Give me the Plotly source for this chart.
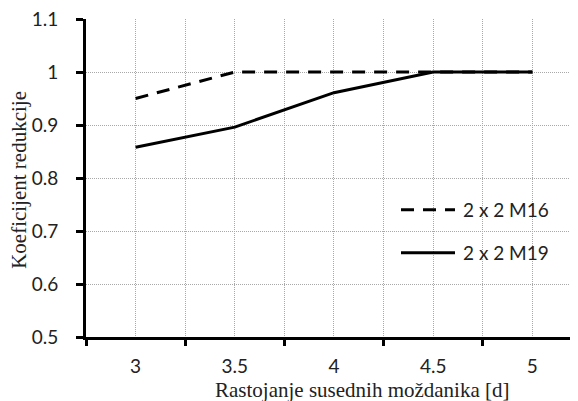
import plotly.graph_objects as go

spacing = [3, 3.5, 4, 4.5, 5]
m16 = [0.95, 1.0, 1.0, 1.0, 1.0]
m19 = [0.858, 0.896, 0.961, 1.0, 1.0]
x_ticks = [3, 3.5, 4, 4.5, 5]
x_tick_text = ["3", "3.5", "4", "4.5", "5"]
y_ticks = [0.5, 0.6, 0.7, 0.8, 0.9, 1.0, 1.1]
y_tick_text = ["0.5", "0.6", "0.7", "0.8", "0.9", "1", "1.1"]
names = ["2 x 2 M16", "2 x 2 M19"]

SANS = "Lato"
SERIF = "Liberation Serif"
GRID = "#a8a8a8"

fig = go.Figure()
fig.add_trace(go.Scatter(x=spacing, y=m16, mode="lines", name=names[0],
                         line=dict(color="black", width=3, dash="13px,9px"),
                         showlegend=False))
fig.add_trace(go.Scatter(x=spacing, y=m19, mode="lines", name=names[1],
                         line=dict(color="black", width=3),
                         showlegend=False))

# page body has an 8px offset; figure is sized/margined to compensate
fig.update_layout(
    width=570, height=393,
    margin=dict(l=78, r=0, t=11, b=64),
    paper_bgcolor="white", plot_bgcolor="white",
    font=dict(family=SANS, size=19, color="#222222"),
    xaxis=dict(
        range=[2.75, 5.23],
        tickvals=x_ticks, ticktext=x_tick_text,
        ticks="", showgrid=True, gridcolor=GRID, griddash="1px,1px", gridwidth=1,
        showline=True, linecolor="black", linewidth=3,
        zeroline=False, ticklabelstandoff=10, automargin=False,
        ticklabeloverflow="allow",
        minor=dict(tick0=2.75, dtick=0.5, ticks="outside", ticklen=6, tickwidth=3,
                   tickcolor="black", showgrid=True, gridcolor=GRID,
                   griddash="1px,1px", gridwidth=1),
    ),
    yaxis=dict(
        range=[0.5, 1.1],
        tickvals=y_ticks, ticktext=y_tick_text,
        ticks="outside", ticklen=7, tickwidth=3, tickcolor="black",
        showgrid=True, gridcolor=GRID, griddash="1px,1px", gridwidth=1,
        showline=True, linecolor="black", linewidth=3,
        zeroline=False, ticklabelstandoff=14, automargin=False,
        ticklabeloverflow="allow",
    ),
)

# axis titles
fig.add_annotation(text="Rastojanje susednih moždanika [d]", xref="paper", yref="paper",
                   x=(362 - 86) / 492, y=(337.3 - 390) / 318.3, xanchor="center", yanchor="middle",
                   showarrow=False, font=dict(family=SERIF, size=21, color="#222222"))
fig.add_annotation(text="Koeficijent redukcije", xref="paper", yref="paper",
                   x=(19 - 86) / 492, y=(337.3 - 180) / 318.3, xanchor="center", yanchor="middle",
                   textangle=-90, showarrow=False,
                   font=dict(family=SERIF, size=21, color="#222222"))

# legend (drawn manually)
leg = [(210, "13px,9px"), (253, "solid")]
for (py, dash), name in zip(leg, names):
    yp = (337.3 - py) / 318.3
    fig.add_shape(type="line", xref="paper", yref="paper",
                  x0=(401 - 86) / 492, x1=(455 - 86) / 492, y0=yp, y1=yp,
                  line=dict(color="black", width=3, dash=dash))
    fig.add_annotation(text=name, xref="paper", yref="paper",
                       x=(461 - 86) / 492, y=yp, xanchor="left", yanchor="middle",
                       showarrow=False, font=dict(family=SANS, size=19, color="#222222"))

fig.write_html("out.html")
